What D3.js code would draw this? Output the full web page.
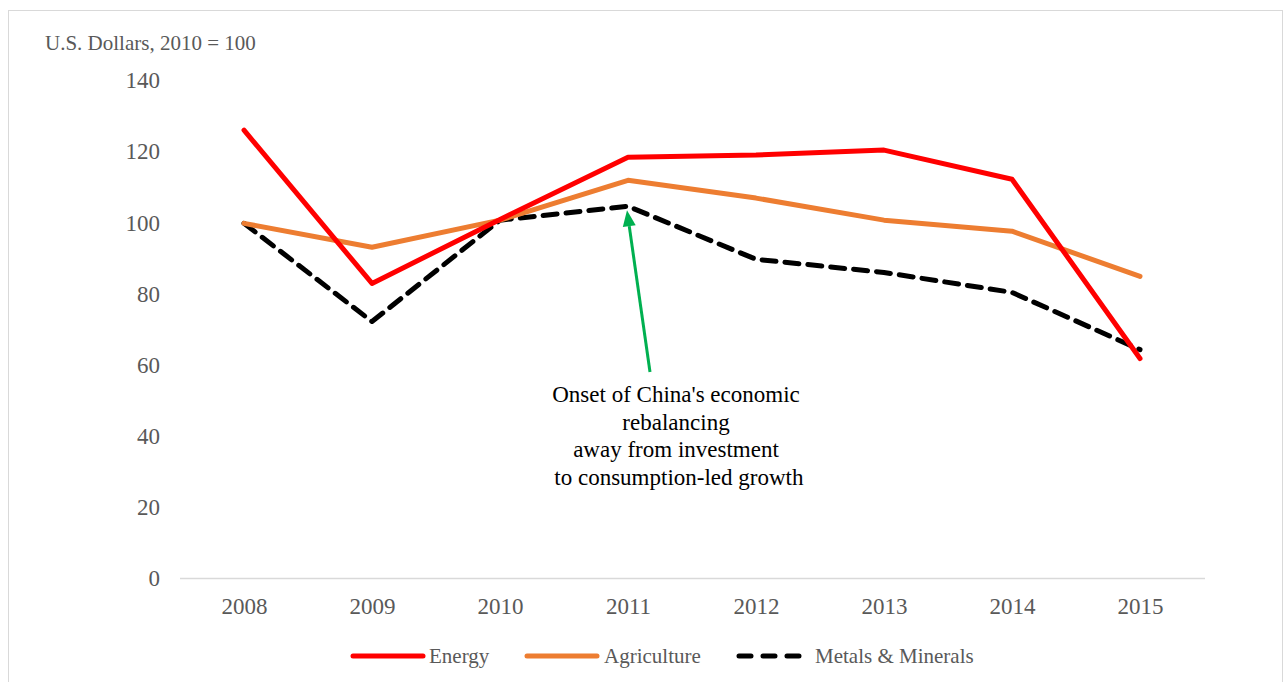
<!DOCTYPE html>
<html>
<head>
<meta charset="utf-8">
<script src="https://cdn.jsdelivr.net/npm/d3@7"></script>
<style>
  html, body { margin: 0; padding: 0; background: #fff; }
  svg { display: block; font-family: "Liberation Serif", "Times New Roman", serif; }
</style>
</head>
<body>
<svg id="chart" width="1286" height="682"></svg>
<script>
// Commodity price indices, U.S. dollars, 2010 = 100
const years = ["2008", "2009", "2010", "2011", "2012", "2013", "2014", "2015"];
const energy = [125.9, 82.8, 100.8, 118.3, 118.9, 120.3, 112.1, 61.7];
const agriculture = [99.7, 93.0, 100.6, 111.8, 106.8, 100.6, 97.5, 84.8];
const metals = [99.7, 72.1, 100.6, 104.5, 89.6, 85.9, 80.3, 64.2];
const yTicks = [0, 20, 40, 60, 80, 100, 120, 140];
const seriesNames = ["Energy", "Agriculture", "Metals & Minerals"];
const annotationLines = ["Onset of China's economic", "rebalancing", "away from investment", " to consumption-led growth"];
const annotationTarget = { year: "2011", value: metals[3] };

const svg = d3.select("#chart");

// outer frame
svg.append("rect")
  .attr("x", 8.5).attr("y", 10.5)
  .attr("width", 1274).attr("height", 700)
  .attr("fill", "none").attr("stroke", "#d9d9d9").attr("stroke-width", 1);

const plot = { left: 180, right: 1205, top: 80, bottom: 578 };

const x = d3.scalePoint().domain(years).range([244, 1140]);
const y = d3.scaleLinear().domain([0, 140]).range([plot.bottom, plot.top]);

// y axis labels (no line)
const yAxis = d3.axisLeft(y).tickValues(yTicks).tickSize(0).tickPadding(0);
const gy = svg.append("g").attr("transform", `translate(${160},0)`).call(yAxis);
gy.select(".domain").remove();
gy.selectAll("text")
  .attr("fill", "#595959").attr("font-size", 23)
  .attr("font-family", "Liberation Serif, serif")
  .attr("dy", "0.34em");

// x axis baseline and labels
svg.append("line")
  .attr("x1", plot.left).attr("x2", plot.right)
  .attr("y1", plot.bottom + 0.5).attr("y2", plot.bottom + 0.5)
  .attr("stroke", "#d9d9d9").attr("stroke-width", 1.5);

const xAxis = d3.axisBottom(x).tickSize(0).tickPadding(0);
const gx = svg.append("g").attr("transform", `translate(0,${plot.bottom})`).call(xAxis);
gx.select(".domain").remove();
gx.selectAll("text")
  .attr("fill", "#595959").attr("font-size", 23)
  .attr("font-family", "Liberation Serif, serif")
  .attr("dy", 0).attr("y", 36);

// axis unit title
svg.append("text")
  .attr("x", 45).attr("y", 50)
  .attr("fill", "#595959").attr("font-size", 21)
  .text("U.S. Dollars, 2010 = 100");

const line = d3.line().x((d, i) => x(years[i])).y(d => y(d));

const series = [
  { name: seriesNames[0], values: energy, color: "#ff0000", dash: null },
  { name: seriesNames[1], values: agriculture, color: "#ed7d31", dash: null },
  { name: seriesNames[2], values: metals, color: "#000000", dash: "14 9" }
];

// draw in order: metals, agriculture, energy so red sits on top
[series[2], series[1], series[0]].forEach(s => {
  svg.append("path")
    .datum(s.values)
    .attr("d", line)
    .attr("fill", "none")
    .attr("stroke", s.color)
    .attr("stroke-width", 5)
    .attr("stroke-linejoin", "round")
    .attr("stroke-linecap", "round")
    .attr("stroke-dasharray", s.dash);
});

// annotation arrow
const tipX = x(annotationTarget.year) - 1;
const tipY = y(annotationTarget.value) + 4;
const startX = 650, startY = 372;
const ang = Math.atan2(tipY - startY, tipX - startX);
const headLen = 16, headHalf = 6.5;
const baseX = tipX - headLen * Math.cos(ang), baseY = tipY - headLen * Math.sin(ang);
svg.append("line")
  .attr("x1", startX).attr("y1", startY)
  .attr("x2", baseX).attr("y2", baseY)
  .attr("stroke", "#00b050").attr("stroke-width", 3);
svg.append("path")
  .attr("d", d3.line()([
    [tipX, tipY],
    [baseX + headHalf * Math.sin(ang), baseY - headHalf * Math.cos(ang)],
    [baseX - headHalf * Math.sin(ang), baseY + headHalf * Math.cos(ang)]
  ]) + "Z")
  .attr("fill", "#00b050");

const ann = svg.append("text")
  .attr("x", 676).attr("y", 402)
  .attr("text-anchor", "middle")
  .attr("fill", "#000").attr("font-size", 23)
  .attr("xml:space", "preserve");
annotationLines.forEach((t, i) => {
  ann.append("tspan").attr("x", 676).attr("dy", i === 0 ? 0 : 27.6).text(t);
});

// legend
const legendY = 656;
const legendItems = [
  { s: series[0], x1: 353, x2: 423, tx: 429 },
  { s: series[1], x1: 527, x2: 597, tx: 604 },
  { s: series[2], x1: 739, x2: 803, tx: 815 }
];
legendItems.forEach(it => {
  svg.append("line")
    .attr("x1", it.x1).attr("x2", it.x2)
    .attr("y1", legendY).attr("y2", legendY)
    .attr("stroke", it.s.color).attr("stroke-width", 5)
    .attr("stroke-linecap", "round")
    .attr("stroke-dasharray", it.s.dash ? "12 12" : null);
  svg.append("text")
    .attr("x", it.tx).attr("y", legendY + 7)
    .attr("fill", "#595959").attr("font-size", 21)
    .text(it.s.name);
});
</script>
</body>
</html>
